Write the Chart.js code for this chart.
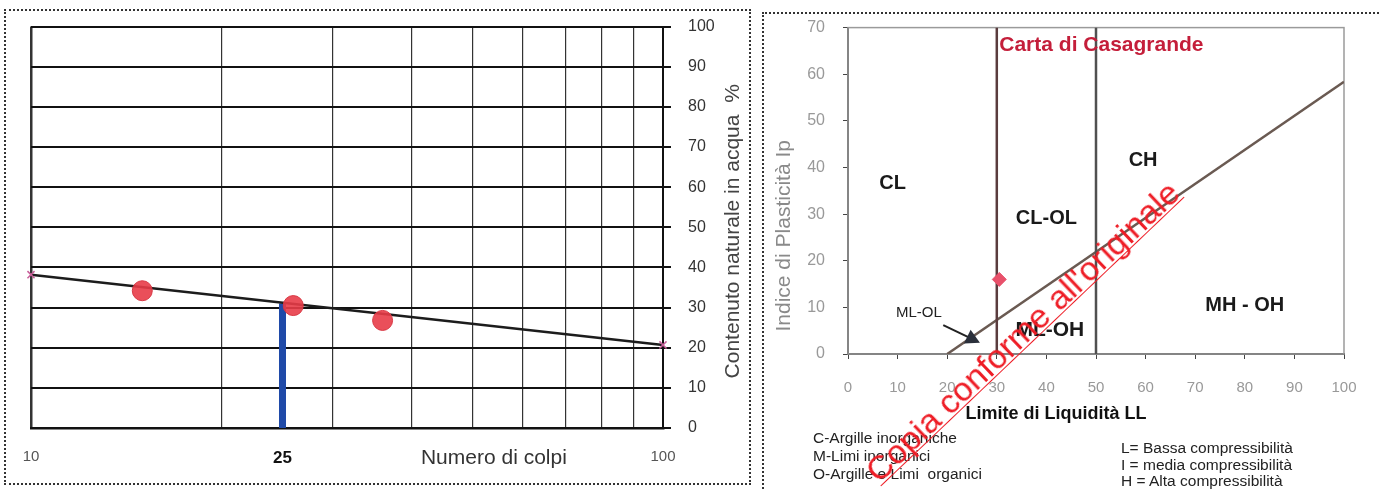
<!DOCTYPE html>
<html>
<head>
<meta charset="utf-8">
<script src="https://cdn.jsdelivr.net/npm/chart.js@4.4.1/dist/chart.umd.min.js"></script>
<style>
  html, body { margin: 0; padding: 0; background: #fff; }
  #page { position: relative; width: 1380px; height: 490px; overflow: hidden; font-family: "Liberation Sans", Arial, sans-serif; }
  .panel { position: absolute; border: 2px dotted #333; box-sizing: border-box; }
  #leftPanel { left: 4px; top: 9px; width: 747px; height: 476px; }
  #rightPanel { left: 762px; top: 12px; width: 640px; height: 500px; }
  canvas { position: absolute; top: 0; }
  #c1 { left: 0; }
  #c2 { left: 760px; }
  .note { position: absolute; font-size: 15.5px; color: #222; white-space: pre; }
  #notesLeft { left: 813px; top: 429px; line-height: 18px; }
  #notesRight { left: 1121px; top: 440px; line-height: 16.5px; }
  #stamp { position: absolute; left: 1023px; top: 332px; transform: translate(-50%, -50%) rotate(-43.6deg);
           font-size: 34px; line-height: 0.8; color: #ee1c25; white-space: nowrap; border-bottom: 1px solid #ee1c25; z-index: 5; }
</style>
</head>
<body>
<div id="page">
  <div class="panel" id="leftPanel"></div>
  <div class="panel" id="rightPanel"></div>
  <canvas id="c1" width="760" height="490"></canvas>
  <canvas id="c2" width="620" height="490"></canvas>
  <div class="note" id="notesLeft"></div>
  <div class="note" id="notesRight"></div>
  <div id="stamp">Copia conforme all'originale</div>
</div>
<script>
const FONT = '"Liberation Sans", Arial, sans-serif';

// --- limite di liquidita (left) ---
const blowCounts = [15, 26, 36];
const waterContents = [34.2, 30.5, 26.8];
const fitBlows = [10, 100];
const fitWater = [38.2, 20.7];
const llBlows = [25, 25];
const llWater = [0, 31.0];
const xGridValues = [10, 20, 25, 30, 40, 50, 60, 70, 80, 90, 100];
const xTickLabels = [10, 25, 100];
const leftXTitle = 'Numero di colpi';
const leftXTitleAt = 54;
const leftYTitle = 'Contenuto naturale in acqua  %';

// --- carta di Casagrande (right) ---
const llLimits = [30, 50];
const aLineLL = [20, 100];
const aLineIp = [0, 58.4];
const sampleLL = [30.5];
const sampleIp = [16];
const zoneNames = ['CL', 'CL-OL', 'CH', 'ML-OH', 'MH - OH'];
const zoneLL = [9, 40, 59.5, 40.7, 80];
const zoneIp = [36.6, 29.1, 41.5, 5.1, 10.5];
const smallZone = 'ML-OL';
const smallZoneAt = [14.3, 8.8];
const arrowFrom = [19.2, 6.2];
const arrowTo = [26.6, 2.4];
const chartTitle = 'Carta di Casagrande';
const chartTitleAt = [30.5, 66.2];
const rightXTitle = 'Limite di Liquidità LL';
const rightYTitle = 'Indice di Plasticità Ip';
const soilNotes = ['C-Argille inorganiche', 'M-Limi inorganici', 'O-Argille e Limi  organici'];
const compressNotes = ['L= Bassa compressibilità', 'I = media compressibilità', 'H = Alta compressibilità'];

document.getElementById('notesLeft').textContent = soilNotes.join('\n');
document.getElementById('notesRight').textContent = compressNotes.join('\n');

const pts = (xs, ys) => xs.map((x, i) => ({x: x, y: ys[i]}));

const leftText = {
  id: 'leftText',
  afterDraw(chart) {
    const {ctx, chartArea: a, scales: {x}} = chart;
    ctx.save();
    ctx.fillStyle = '#333';
    ctx.textAlign = 'center';
    ctx.textBaseline = 'middle';
    ctx.font = '21px ' + FONT;
    ctx.fillText(leftXTitle, x.getPixelForValue(leftXTitleAt), a.bottom + 30);
    ctx.translate(a.right + 70, (a.top + a.bottom) / 2 + 4);
    ctx.rotate(-Math.PI / 2);
    ctx.fillStyle = '#444';
    ctx.font = '21px ' + FONT;
    ctx.fillText(leftYTitle, 0, 0);
    ctx.restore();
  }
};

new Chart(document.getElementById('c1'), {
  type: 'scatter',
  data: {
    datasets: [
      {
        data: pts(blowCounts, waterContents),
        pointRadius: 10,
        backgroundColor: 'rgba(232,60,72,0.9)',
        borderColor: '#d83844',
        borderWidth: 1,
        order: 0
      },
      {
        data: pts(fitBlows, fitWater),
        showLine: true,
        borderColor: '#1c1c1c',
        borderWidth: 2.5,
        pointStyle: 'crossRot',
        pointRadius: 5,
        pointBorderColor: '#c8609a',
        pointBorderWidth: 1.5,
        clip: false,
        order: 1
      },
      {
        data: pts(llBlows, llWater),
        showLine: true,
        borderColor: '#1f4aa8',
        borderWidth: 7,
        borderCapStyle: 'butt',
        pointRadius: 0,
        order: 2
      }
    ]
  },
  options: {
    responsive: false,
    animation: false,
    layout: { padding: { left: 31, top: 22, right: 0, bottom: 0 } },
    plugins: { legend: { display: false }, tooltip: { enabled: false } },
    scales: {
      x: {
        type: 'logarithmic',
        min: 10,
        max: 100,
        afterBuildTicks: (s) => { s.ticks = xGridValues.map(v => ({value: v})); },
        afterFit: (s) => { s.height = 62; },
        grid: {
          color: (c) => c.tick && c.tick.value === 25 ? 'rgba(0,0,0,0)' : '#333',
          lineWidth: (c) => c.tick && c.tick.value === 10 ? 2.5 : 1.2,
          drawTicks: false
        },
        border: { color: '#111', width: 2.5 },
        ticks: {
          autoSkip: false,
          maxRotation: 0,
          padding: 20,
          callback: (v) => xTickLabels.includes(v) ? String(v) : '',
          color: (c) => c.tick && c.tick.value === 25 ? '#111' : '#555',
          font: (c) => c.tick && c.tick.value === 25 ? {family: FONT, size: 17, weight: 'bold'} : {family: FONT, size: 15}
        }
      },
      y: {
        position: 'right',
        min: 0,
        max: 100,
        afterFit: (s) => { s.width = 97; },
        grid: { color: '#111', lineWidth: 2, tickLength: 8 },
        border: { color: '#111', width: 2 },
        ticks: { stepSize: 10, padding: 17, color: '#333', font: {family: FONT, size: 16} }
      }
    }
  },
  plugins: [leftText]
});

const rightText = {
  id: 'rightText',
  beforeDatasetsDraw(chart) {
    const {ctx, chartArea: a} = chart;
    ctx.save();
    ctx.strokeStyle = '#9a9a9a';
    ctx.lineWidth = 1.5;
    ctx.strokeRect(a.left, a.top, a.right - a.left, a.bottom - a.top);
    ctx.restore();
  },
  afterDatasetsDraw(chart) {
    const {ctx, chartArea: a, scales: {x, y}} = chart;
    ctx.save();
    ctx.textAlign = 'center';
    ctx.textBaseline = 'middle';
    ctx.fillStyle = '#1a1a1a';
    zoneNames.forEach((n, i) => {
      ctx.font = (n === 'ML-OH' ? 'bold 21px ' : 'bold 20px ') + FONT;
      ctx.fillText(n, x.getPixelForValue(zoneLL[i]), y.getPixelForValue(zoneIp[i]));
    });
    ctx.font = '15px ' + FONT;
    ctx.fillStyle = '#222';
    ctx.fillText(smallZone, x.getPixelForValue(smallZoneAt[0]), y.getPixelForValue(smallZoneAt[1]));

    // freccia verso la zona ML-OL
    const x0 = x.getPixelForValue(arrowFrom[0]), y0 = y.getPixelForValue(arrowFrom[1]);
    const x1 = x.getPixelForValue(arrowTo[0]), y1 = y.getPixelForValue(arrowTo[1]);
    const ang = Math.atan2(y1 - y0, x1 - x0);
    ctx.strokeStyle = '#222';
    ctx.fillStyle = '#2a2f3a';
    ctx.lineWidth = 2;
    ctx.beginPath();
    ctx.moveTo(x0, y0);
    ctx.lineTo(x1 - 10 * Math.cos(ang), y1 - 10 * Math.sin(ang));
    ctx.stroke();
    ctx.beginPath();
    ctx.moveTo(x1, y1);
    ctx.lineTo(x1 - 16 * Math.cos(ang - 0.5), y1 - 16 * Math.sin(ang - 0.5));
    ctx.lineTo(x1 - 16 * Math.cos(ang + 0.5), y1 - 16 * Math.sin(ang + 0.5));
    ctx.closePath();
    ctx.fill();

    ctx.textAlign = 'left';
    ctx.fillStyle = '#c41e3a';
    ctx.font = 'bold 21px ' + FONT;
    ctx.fillText(chartTitle, x.getPixelForValue(chartTitleAt[0]), y.getPixelForValue(chartTitleAt[1]));

    ctx.textAlign = 'center';
    ctx.fillStyle = '#111';
    ctx.font = 'bold 18px ' + FONT;
    ctx.fillText(rightXTitle, a.left + 208, a.bottom + 60);

    ctx.translate(a.left - 64, (a.top + a.bottom) / 2 + 45);
    ctx.rotate(-Math.PI / 2);
    ctx.fillStyle = '#8a8a8a';
    ctx.font = '21px ' + FONT;
    ctx.fillText(rightYTitle, 0, 0);
    ctx.restore();
  }
};

new Chart(document.getElementById('c2'), {
  type: 'scatter',
  data: {
    datasets: [
      {
        data: pts(sampleLL, sampleIp),
        pointStyle: 'rectRot',
        pointRadius: 7,
        backgroundColor: '#e8506a',
        borderColor: '#e8506a',
        order: 0
      },
      {
        data: pts([llLimits[0], llLimits[0]], [0, 70]),
        showLine: true,
        borderColor: '#5a3c3e',
        borderWidth: 2.5,
        pointRadius: 0,
        order: 1
      },
      {
        data: pts([llLimits[1], llLimits[1]], [0, 70]),
        showLine: true,
        borderColor: '#505050',
        borderWidth: 2.5,
        pointRadius: 0,
        order: 1
      },
      {
        data: pts(aLineLL, aLineIp),
        showLine: true,
        borderColor: '#6a5a52',
        borderWidth: 2.5,
        pointRadius: 0,
        order: 1
      }
    ]
  },
  options: {
    responsive: false,
    animation: false,
    layout: { padding: { left: 0, top: 27, right: 36, bottom: 0 } },
    plugins: { legend: { display: false }, tooltip: { enabled: false } },
    scales: {
      x: {
        min: 0,
        max: 100,
        afterFit: (s) => { s.height = 136; },
        grid: { drawOnChartArea: false, tickLength: 5, color: '#444' },
        border: { color: '#444', width: 2 },
        ticks: { stepSize: 10, padding: 20, color: '#999', font: {family: FONT, size: 15} }
      },
      y: {
        min: 0,
        max: 70,
        afterFit: (s) => { s.width = 88; },
        grid: { drawOnChartArea: false, tickLength: 5, color: '#444' },
        border: { color: '#444', width: 2 },
        ticks: { stepSize: 10, padding: 18, color: '#999', font: {family: FONT, size: 16} }
      }
    }
  },
  plugins: [rightText]
});
</script>
</body>
</html>
